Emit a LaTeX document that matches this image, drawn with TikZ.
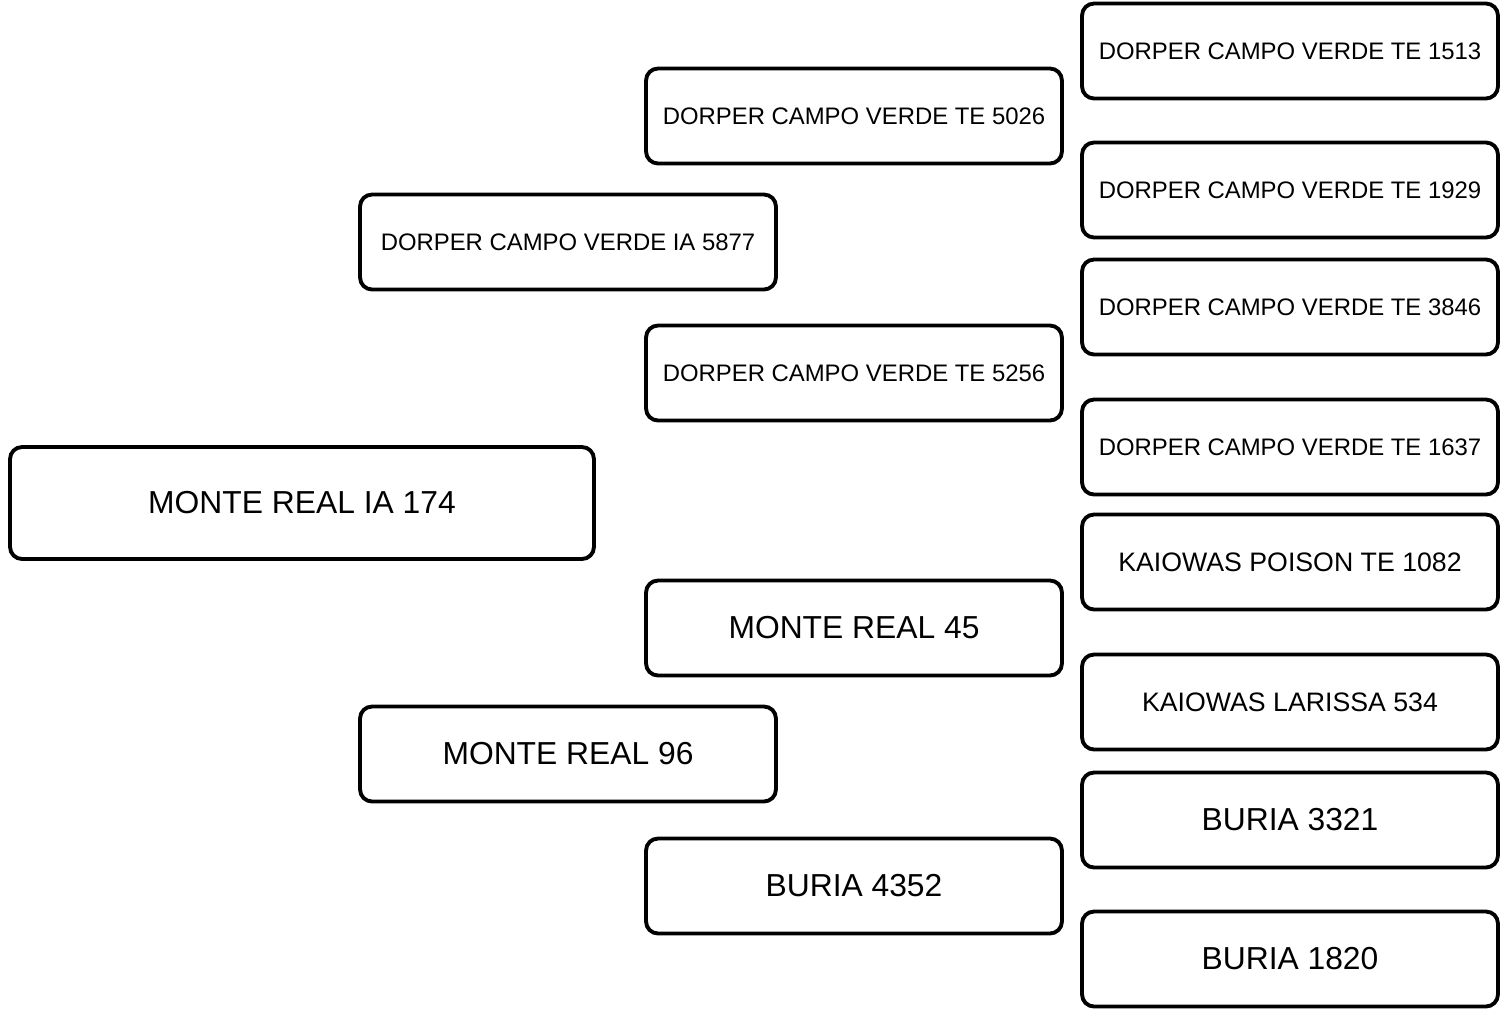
\documentclass[tikz,border=0pt]{standalone}
\usepackage{fontspec}
\setmainfont{Liberation Sans}
\usetikzlibrary{positioning}

\tikzset{
  box/.style={draw, line width=2.2pt, rounded corners=0.24cm, fill=white, minimum width=8.32cm, minimum height=1.9cm, inner sep=0pt},
  small/.style={font=\fontsize{13.6}{16}\selectfont},
  medium/.style={font=\fontsize{15.2}{18}\selectfont},
  big/.style={font=\fontsize{18.1}{22}\selectfont}
}

\begin{document}
\begin{tikzpicture}[x=0.02cm, y=-0.02cm]
  \useasboundingbox (0,0) rectangle (1501,1011);
  % first generation
  \node[box, big, minimum width=11.68cm, minimum height=2.24cm] (root) at (302,503) {MONTE REAL IA 174};
  % parents
  \node[box, small] (sire) at (568,242) {DORPER CAMPO VERDE IA 5877};
  \node[box, big] (dam) at (568,754) {MONTE REAL 96};
  % grandparents
  \node[box, small] (ss) at (854,116) {DORPER CAMPO VERDE TE 5026};
  \node[box, small] (sd) at (854,373) {DORPER CAMPO VERDE TE 5256};
  \node[box, big] (ds) at (854,628) {MONTE REAL 45};
  \node[box, big] (dd) at (854,886) {BURIA 4352};
  % great-grandparents
  \node[box, small] (sss) at (1290,51) {DORPER CAMPO VERDE TE 1513};
  \node[box, small] (ssd) at (1290,190) {DORPER CAMPO VERDE TE 1929};
  \node[box, small] (sds) at (1290,307) {DORPER CAMPO VERDE TE 3846};
  \node[box, small] (sdd) at (1290,447) {DORPER CAMPO VERDE TE 1637};
  \node[box, medium] (dss) at (1290,562) {KAIOWAS POISON TE 1082};
  \node[box, medium] (dsd) at (1290,702) {KAIOWAS LARISSA 534};
  \node[box, big] (dds) at (1290,820) {BURIA 3321};
  \node[box, big] (ddd) at (1290,959) {BURIA 1820};
\end{tikzpicture}
\end{document}
